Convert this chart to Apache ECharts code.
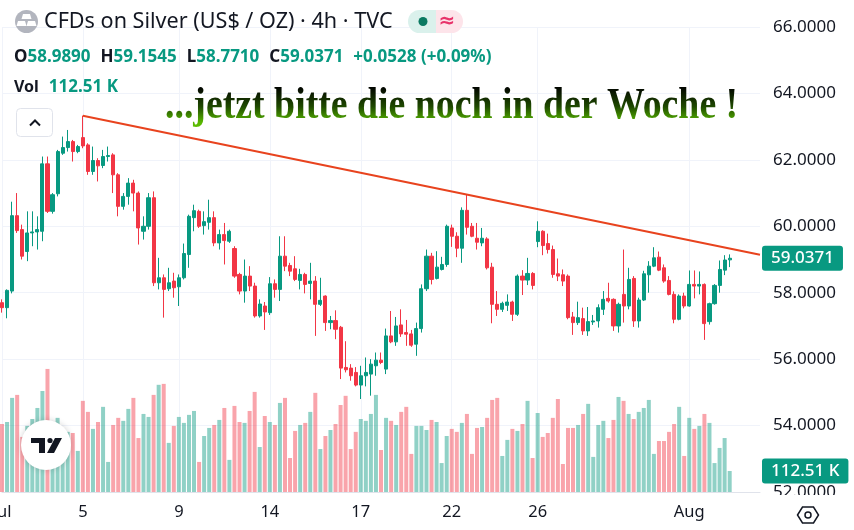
<!DOCTYPE html>
<html>
<head>
<meta charset="utf-8">
<script src="https://cdn.jsdelivr.net/npm/echarts@6/dist/echarts.min.js"></script>
<style>
html, body { margin: 0; padding: 0; background: #fff; }
#chart { width: 854px; height: 530px; }
</style>
</head>
<body>
<div id="chart"></div>
<script>
// 4h candles, [open, close, low, high]
var ohlc = [
    [57.70,57.55,57.40,57.80],[57.55,58.07,57.23,58.10],[58.05,60.32,57.98,60.74],[60.32,59.87,59.80,61.00],[59.90,59.10,59.00,60.05],
    [59.24,59.80,58.95,60.45],[59.80,59.83,59.40,60.45],[59.83,59.90,59.30,60.30],[59.85,61.88,59.55,62.10],[61.88,60.45,60.40,62.10],
    [60.45,60.95,60.38,61.00],[60.98,62.25,60.90,62.30],[62.20,62.37,62.15,62.70],[62.37,62.55,62.25,62.90],[62.55,62.25,61.95,62.60],
    [62.25,62.40,62.20,62.45],[62.67,62.42,62.35,63.33],[62.45,61.65,61.55,62.50],[61.65,61.98,61.55,62.40],[61.98,61.82,61.35,62.05],
    [61.83,62.10,61.75,62.30],[62.10,62.13,61.95,62.40],[62.15,61.55,61.00,62.20],[61.55,60.60,60.30,61.60],[60.60,60.90,60.50,61.00],
    [60.90,61.30,60.65,61.45],[61.30,61.00,60.45,61.40],[61.00,59.95,59.45,61.05],[59.85,60.00,59.60,60.30],[60.00,60.86,59.90,61.00],
    [60.86,58.30,58.20,61.05],[58.30,58.45,58.10,59.05],[58.45,58.10,57.25,58.55],[58.12,58.30,58.05,58.75],[58.35,58.15,57.85,58.60],
    [58.18,58.45,57.60,58.55],[58.45,59.18,58.40,59.48],[59.15,60.30,58.75,60.35],[60.26,60.47,59.85,60.65],[60.45,60.00,59.95,60.50],
    [60.02,60.14,59.75,60.45],[60.12,60.26,59.90,60.80],[60.26,59.50,59.40,60.45],[59.50,59.75,59.30,59.90],[59.75,59.57,58.85,60.10],
    [59.55,59.85,59.50,59.90],[59.33,58.50,58.45,59.40],[58.55,58.05,57.95,58.60],[58.05,58.50,57.70,59.00],[58.50,58.20,58.05,58.80],
    [58.20,57.30,57.25,58.30],[57.30,57.66,57.25,57.80],[57.60,57.42,56.88,57.72],[57.40,58.27,57.33,58.47],[58.27,58.10,57.85,58.40],
    [58.10,59.10,57.75,59.70],[59.10,58.80,58.65,59.70],[58.82,58.65,58.50,58.90],[58.72,58.40,58.35,59.10],[58.37,58.55,58.10,58.72],
    [58.55,58.25,57.98,58.60],[58.28,58.35,57.80,58.90],[58.35,57.65,56.70,58.50],[57.65,57.77,57.60,58.45],[57.90,57.10,56.85,57.92],
    [57.10,57.16,56.90,57.30],[57.16,56.90,56.60,57.47],[56.96,55.73,55.40,57.00],[55.75,55.68,55.60,56.54],[55.73,55.50,55.35,55.85],
    [55.60,55.22,55.18,55.76],[55.22,55.50,54.80,55.80],[55.50,55.60,55.18,56.05],[55.55,55.85,54.90,56.00],[55.80,55.97,55.50,56.20],
    [55.97,55.90,55.85,56.20],[55.70,56.70,55.55,56.92],[56.70,56.52,56.48,57.45],[56.52,57.00,56.40,57.27],[57.03,56.76,56.67,57.50],
    [56.80,56.75,56.40,57.18],[56.76,56.42,56.37,56.88],[56.45,56.92,56.10,57.10],[56.92,58.12,56.80,58.25],[58.12,59.10,58.05,59.30],
    [59.10,58.40,58.25,59.20],[58.43,58.77,58.40,59.25],[58.70,58.85,58.67,59.08],[58.85,60.00,58.78,60.05],[59.95,59.70,59.38,60.05],
    [59.70,59.34,59.07,59.82],[59.34,60.48,58.90,60.57],[60.48,59.97,59.75,60.95],[60.00,59.70,59.67,60.10],[59.64,59.52,59.30,60.10],
    [59.50,59.64,59.40,59.95],[59.62,58.75,58.70,59.67],[58.77,57.65,57.08,58.90],[57.65,57.50,57.30,58.05],[57.50,57.68,57.42,57.73],
    [57.62,57.72,57.45,57.95],[57.72,57.35,57.15,57.76],[57.35,58.50,57.30,58.55],[58.50,58.38,57.93,58.68],[58.38,58.58,58.23,59.05],
    [58.58,58.22,58.10,58.62],[59.54,59.85,59.37,60.15],[59.85,59.42,59.13,59.88],[59.48,59.30,59.18,59.78],[59.30,58.55,58.45,59.42],
    [58.57,58.50,58.35,59.03],[58.54,58.35,58.20,58.70],[58.50,57.25,57.20,58.55],[57.27,57.10,56.73,57.42],[57.10,57.25,57.03,57.73],
    [57.22,56.85,56.73,57.55],[56.85,57.13,56.70,57.57],[57.12,57.15,57.03,57.33],[57.15,57.55,56.95,57.65],[57.50,57.80,57.33,58.05],
    [57.83,57.75,57.70,58.30],[57.80,57.00,56.85,57.83],[57.00,57.65,56.80,57.70],[57.95,57.60,57.10,59.30],[57.60,58.40,57.50,58.75],
    [58.43,57.15,56.97,58.50],[57.15,57.78,56.95,57.85],[57.78,58.57,57.75,58.66],[58.54,58.80,58.00,58.95],[58.80,59.05,58.77,59.37],
    [59.07,58.68,58.65,59.24],[58.75,58.35,58.30,58.85],[58.37,57.95,57.92,58.50],[57.95,57.20,57.08,58.04],[57.20,57.90,57.17,57.95],
    [57.90,57.60,57.53,58.00],[57.60,58.25,57.58,58.67],[58.25,58.20,57.83,58.67],[58.20,58.25,57.95,58.64],[58.25,57.07,56.58,58.28],
    [57.13,57.67,57.04,57.70],[57.67,58.22,57.64,58.26],[58.22,58.70,58.00,58.97],[58.68,58.9843,58.53,59.13],[58.989,59.0371,58.771,59.1545]
];

// volume in K
var volume = [
    364,375,504,520,295,354,391,450,541,659,
    375,397,332,322,316,220,488,429,338,375,
    456,161,359,397,381,445,504,289,418,402,
    520,574,579,263,354,402,370,413,434,161,
    300,343,359,386,450,172,461,375,370,434,
    536,241,407,375,359,477,504,182,327,359,
    370,429,531,230,300,332,364,466,515,230,
    322,391,381,418,520,225,397,381,359,429,
    456,204,354,354,332,386,375,155,300,338,
    322,370,418,204,343,348,397,493,504,193,
    279,338,327,364,488,182,423,295,316,397,
    498,150,343,343,359,418,472,188,359,381,
    289,386,509,488,418,391,429,450,493,204,
    273,273,322,364,456,193,397,338,354,418,
    370,155,236,289,112.51
];

var tickIndex = [0, 16, 35, 53, 71, 89, 106, 136];
var tickLabels = ['Jul', '5', '9', '14', '17', '22', '26', 'Aug'];
var trendLine = [[16, 63.33], [150, 59.14]];
var slotCount = 151;
var priceMin = 52, priceMax = 66, priceStep = 2;
var volumeAxisMax = 2490;

var upColor = '#089981', downColor = '#f23645';
var font = '"Noto Sans", "DejaVu Sans", sans-serif';

var categories = [];
for (var i = 0; i < slotCount; i++) categories.push(String(i));
var labelAt = {};
tickIndex.forEach(function (idx, k) { labelAt[idx] = tickLabels[k]; });
var isTick = function (idx) { return labelAt[idx] !== undefined; };

var volData = volume.map(function (v, i) {
    var up = ohlc[i][1] >= ohlc[i][0];
    return { value: v, itemStyle: { color: up ? 'rgba(8,153,129,0.45)' : 'rgba(242,54,69,0.45)' } };
});

var last = ohlc[ohlc.length - 1];
var prevClose = ohlc[ohlc.length - 2][1];
var chg = last[1] - prevClose;
var pct = chg / prevClose * 100;
var lastVol = volume[volume.length - 1];

var legendText = '{k|O}{v|' + last[0].toFixed(4) + '}  {k|H}{v|' + last[3].toFixed(4) +
    '}  {k|L}{v|' + last[2].toFixed(4) + '}  {k|C}{v|' + last[1].toFixed(4) +
    '}  {v|+' + chg.toFixed(4) + ' (+' + pct.toFixed(2) + '%)}';

var boxLabel = {
    show: true, position: 'end', distance: 2,
    backgroundColor: upColor, color: '#fff', fontSize: 17, fontWeight: 500, fontFamily: font,
    padding: [4, 9, 4, 9], borderRadius: 3
};
var hiddenLine = { color: 'rgba(0,0,0,0)', width: 0 };

var myChart = echarts.init(document.getElementById('chart'));

var option = {
    animation: false,
    backgroundColor: '#fff',
    title: [{
        text: 'CFDs on Silver (US$ / OZ) · 4h · TVC',
        left: 44, top: 11, padding: 0,
        textStyle: { fontSize: 21.6, fontWeight: 'normal', color: '#131722', fontFamily: font }
    }, {
        text: legendText,
        left: 14, top: 48, padding: 0,
        textStyle: {
            rich: {
                k: { fontSize: 17, color: '#131722', fontFamily: font },
                v: { fontSize: 17, color: upColor, fontFamily: font }
            }
        }
    }, {
        text: '{k|Vol}  {v|' + lastVol.toFixed(2) + ' K}',
        left: 14, top: 78, padding: 0,
        textStyle: {
            rich: {
                k: { fontSize: 16, color: '#131722', fontFamily: font },
                v: { fontSize: 17, color: upColor, fontFamily: font }
            }
        }
    }],
    grid: { left: 2, right: 94, top: 27, bottom: 38, outerBoundsMode: 'none', containLabel: false },
    xAxis: {
        type: 'category',
        data: categories,
        boundaryGap: false,
        axisLine: { show: true, lineStyle: { color: '#e0e3eb' } },
        axisTick: { show: false },
        axisLabel: {
            interval: function (idx) { return isTick(idx); },
            formatter: function (v, idx) { return labelAt[idx] || ''; },
            alignMinLabel: 'center',
            color: '#131722', fontSize: 16.5, fontFamily: font, margin: 12
        },
        splitLine: {
            show: true,
            interval: function (idx) { return isTick(idx); },
            lineStyle: { color: '#f0f3fa' }
        }
    },
    yAxis: [{
        type: 'value',
        position: 'right',
        min: priceMin, max: priceMax, interval: priceStep,
        axisLine: { show: false },
        axisTick: { show: false },
        axisLabel: {
            formatter: function (v) { return v.toFixed(4); },
            color: '#131722', fontSize: 17, fontFamily: font, margin: 13
        },
        splitLine: { lineStyle: { color: '#f0f3fa' } }
    }, {
        type: 'value',
        min: 0, max: volumeAxisMax,
        show: false,
        splitLine: { show: false }
    }],
    series: [{
        name: 'Vol',
        type: 'bar',
        yAxisIndex: 1,
        data: volData,
        barWidth: 4,
        clip: false,
        z: 1,
        markLine: {
            silent: true, symbol: ['none', 'none'],
            lineStyle: hiddenLine,
            label: Object.assign({}, boxLabel, { formatter: lastVol.toFixed(2) + ' K' }),
            data: [{ yAxis: lastVol }]
        }
    }, {
        name: 'Silver',
        type: 'candlestick',
        data: ohlc,
        barWidth: 3.6,
        clip: false,
        z: 3,
        itemStyle: {
            color: upColor, color0: downColor,
            borderColor: upColor, borderColor0: downColor, borderWidth: 1
        },
        markLine: {
            silent: true, symbol: ['none', 'none'],
            data: [
                [{ coord: [String(trendLine[0][0]), trendLine[0][1]] },
                 { coord: [String(trendLine[1][0]), trendLine[1][1]] }],
                { yAxis: last[1], lineStyle: hiddenLine,
                  label: Object.assign({}, boxLabel, { formatter: last[1].toFixed(4) }) }
            ],
            lineStyle: { color: '#e8431e', width: 2, type: 'solid' },
            label: { show: false }
        }
    }],
    graphic: { elements: [
        // cover below the price scale so 52.0000 is cut like the original
        { type: 'rect', z: 90, shape: { x: 760, y: 495, width: 94, height: 35 }, style: { fill: '#fff' } },
        // symbol icon
        { type: 'circle', z: 100, shape: { cx: 26.5, cy: 21.5, r: 11.5 }, style: { fill: '#b2b5be' } },
        { type: 'polygon', z: 101, shape: { points: [[23, 14], [30, 14], [31.5, 19], [21.5, 19]] }, style: { fill: '#fff' } },
        { type: 'polygon', z: 101, shape: { points: [[18, 21], [25, 21], [26.5, 26], [16.5, 26]] }, style: { fill: '#fff' } },
        { type: 'polygon', z: 101, shape: { points: [[28, 21], [35, 21], [36.5, 26], [26.5, 26]] }, style: { fill: '#fff' } },
        // status pill
        { type: 'rect', z: 100, shape: { x: 408, y: 10, width: 28, height: 23, r: [11.5, 0, 0, 11.5] }, style: { fill: '#daf1ec' } },
        { type: 'rect', z: 100, shape: { x: 436, y: 10, width: 27, height: 23, r: [0, 11.5, 11.5, 0] }, style: { fill: '#fde4ea' } },
        { type: 'circle', z: 101, shape: { cx: 423, cy: 21.5, r: 4.5 }, style: { fill: '#0b7a62' } },
        { type: 'text', z: 101, x: 447, y: 21.5, style: { text: '≈', fill: '#e8336b', fontSize: 20, fontWeight: 'bold', fontFamily: font, align: 'center', verticalAlign: 'middle' } },
        // collapse button
        { type: 'rect', z: 100, shape: { x: 16.5, y: 108.5, width: 36, height: 28, r: 4 }, style: { fill: '#fff', stroke: '#e0e3eb', lineWidth: 1 } },
        { type: 'polyline', z: 101, shape: { points: [[30, 125.5], [35, 120.5], [40, 125.5]] }, style: { stroke: '#131722', lineWidth: 2, fill: null } },
        // annotation: text on its own layer, gradient painted only onto the glyphs
        { type: 'text', zlevel: 1, z: 100, x: 165, y: 106, scaleX: 0.84,
          style: {
              text: '...jetzt bitte die noch in der Woche !',
              fontSize: 45, fontWeight: 'bold', fontFamily: '"Liberation Serif", "DejaVu Serif", serif',
              verticalAlign: 'middle', align: 'left', fill: '#000'
          } },
        { type: 'rect', zlevel: 1, z: 101, shape: { x: 150, y: 86, width: 610, height: 46 },
          style: {
              blend: 'source-atop',
              fill: new echarts.graphic.LinearGradient(0, 0, 0, 1, [
                  { offset: 0, color: '#000000' }, { offset: 0.45, color: '#1f4a00' },
                  { offset: 0.78, color: '#56b400' }, { offset: 1, color: '#66c800' }
              ])
          } },
        // TV logo badge
        { type: 'circle', z: 100, shape: { cx: 46, cy: 445, r: 25 }, style: { fill: '#fff', shadowBlur: 6, shadowColor: 'rgba(0,0,0,0.18)' } },
        { type: 'polygon', z: 101, shape: { points: [[31, 438], [45, 438], [45, 453], [39, 453], [39, 443], [31, 443]] }, style: { fill: '#131722' } },
        { type: 'circle', z: 101, shape: { cx: 50, cy: 440.5, r: 2.6 }, style: { fill: '#131722' } },
        { type: 'polygon', z: 101, shape: { points: [[55, 438], [62, 438], [54, 453], [47, 453]] }, style: { fill: '#131722' } },
        // settings icon
        { type: 'polygon', z: 100, shape: { points: [[797.5, 515], [802.5, 507], [813.5, 507], [818.5, 515], [813.5, 523], [802.5, 523]] }, style: { fill: null, stroke: '#131722', lineWidth: 1.5 } },
        { type: 'circle', z: 100, shape: { cx: 808, cy: 515, r: 3 }, style: { fill: null, stroke: '#131722', lineWidth: 1.5 } }
    ] }
};

myChart.setOption(option);
</script>
</body>
</html>
